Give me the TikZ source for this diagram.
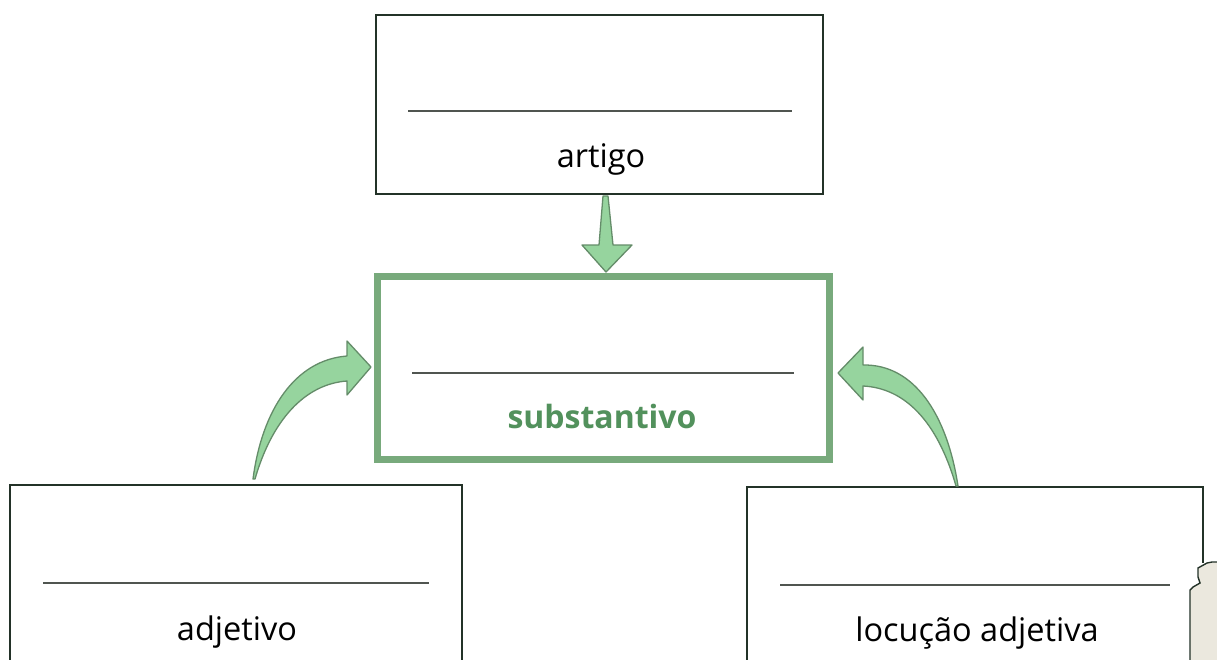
\documentclass[tikz,border=0pt]{standalone}
\usepackage{fontspec}
\setmainfont{Open Sans}
\definecolor{inkc}{RGB}{35,50,40}
\definecolor{rulec}{RGB}{80,85,80}
\definecolor{greenborder}{RGB}{120,170,124}
\definecolor{greentext}{RGB}{82,145,92}
\definecolor{arrowfill}{RGB}{150,212,158}
\definecolor{arrowline}{RGB}{100,140,105}
\definecolor{paperc}{RGB}{235,232,222}
\tikzset{
  box/.style={draw=inkc, line width=2pt, rectangle, inner sep=0pt},
  greenbox/.style={draw=greenborder, line width=6.5pt, rectangle, inner sep=0pt},
  rule/.style={draw=rulec, line width=1.3pt},
  lbl/.style={font=\fontsize{32.5}{38}\selectfont, text=black, inner sep=0pt, anchor=base},
  glbl/.style={font=\fontsize{32}{38}\selectfont\bfseries, text=greentext, inner sep=0pt, anchor=base},
  blockarrow/.style={fill=arrowfill, draw=arrowline, line width=1.3pt, line join=round}
}
\begin{document}
\begin{tikzpicture}[x=1pt,y=-1pt]
\path[use as bounding box] (0,0) rectangle (1217,659);
\clip (0,0) rectangle (1217,659);
\fill[white] (0,0) rectangle (1217,659);

% top box: artigo
\node[box, minimum width=447pt, minimum height=179pt] (art) at (599.5,104.5) {};
\draw[rule] (408,111) -- (792,111);
\node[lbl] (tart) at (601,167) {artigo};

% middle box: substantivo
\node[greenbox, minimum width=452pt, minimum height=183pt] (sub) at (603.5,368) {};
\draw[rule] (412,373) -- (794,373);
\node[glbl] (tsub) at (602,428) {substantivo};

% left box: adjetivo
\node[box, minimum width=452pt, minimum height=240pt] (adj) at (236,605) {};
\draw[rule] (43,583) -- (429,583);
\node[lbl] (tadj) at (237,640) {adjetivo};

% right box: locucao adjetiva
\draw[box] (747,700) -- (747,487) -- (1203,487) -- (1203,563);
\coordinate (loc) at (975,580);
\draw[rule] (780,585) -- (1170,585);
\node[lbl] (tloc) at (977,641) {locução adjetiva};

% torn paper edge
\path[fill=paperc] (1190,670) -- (1190,590) -- (1193,587) -- (1200,583) -- (1198,577) -- (1198,568) -- (1207,563) -- (1212,562) -- (1220,562) -- (1220,670) -- cycle;
\draw[inkc, line width=1.4pt] (1190,670) -- (1190,590) -- (1193,587) -- (1200,583) -- (1198,577) -- (1198,568) -- (1207,563) -- (1212,562) -- (1220,562);

% down arrow artigo -> substantivo
\draw[blockarrow] (603,196) -- (608,196) -- (613,245) -- (632,245) -- (606,272) -- (582,245) -- (599,245) -- cycle;

% curved arrow adjetivo -> substantivo
\draw[blockarrow] (253,479) .. controls (262,410) and (295,360) .. (347,356)
  -- (347,341) -- (371,367) -- (347,395) -- (347,381)
  .. controls (305,384) and (272,420) .. (255,479) -- cycle;

% curved arrow locucao adjetiva -> substantivo
\draw[blockarrow] (958,486) .. controls (947,414) and (914,364) .. (863,365)
  -- (863,347) -- (838,373) -- (863,400) -- (863,386)
  .. controls (904,388) and (937,420) .. (956,486) -- cycle;
\end{tikzpicture}
\end{document}
